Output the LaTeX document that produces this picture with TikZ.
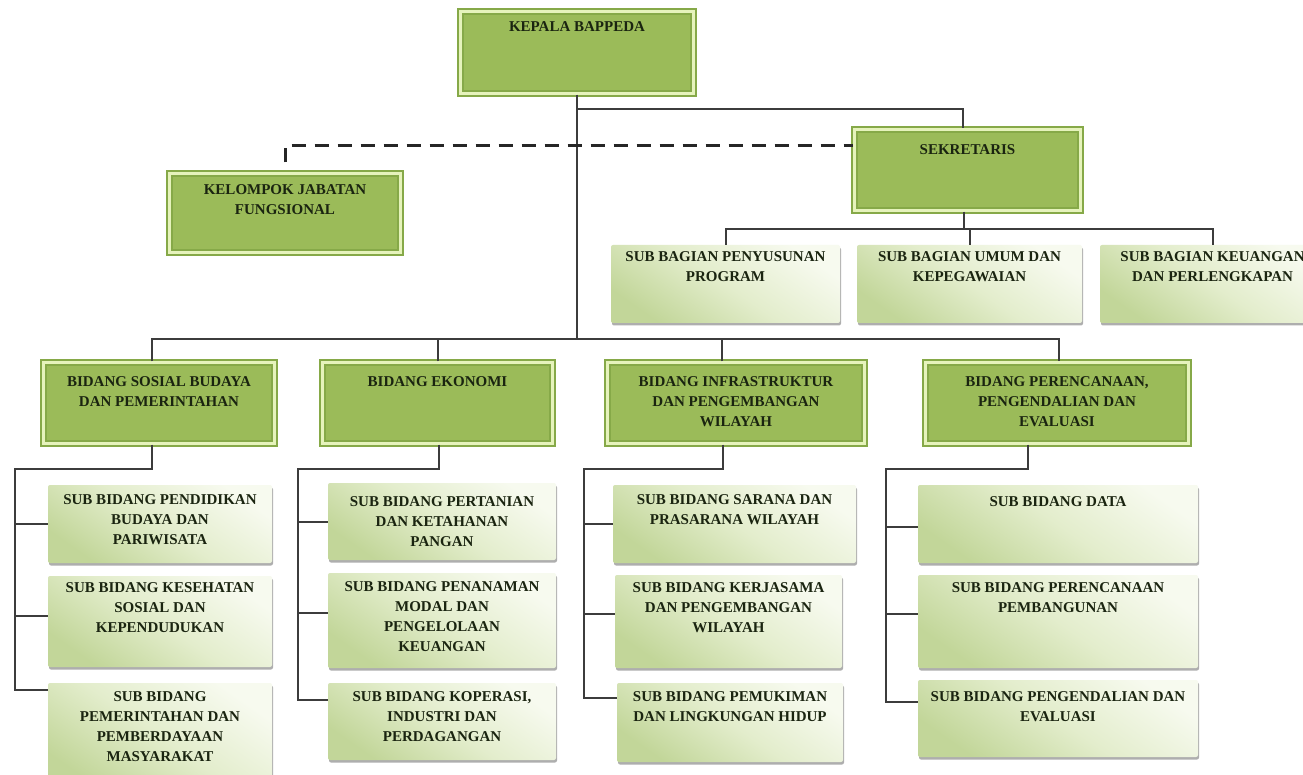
\documentclass[tikz,border=0pt]{standalone}
\usepackage{fontspec}
\setmainfont{Liberation Serif}
\usepackage{tikz}
\usetikzlibrary{shadows}

\definecolor{boxfill}{HTML}{9BBB59}
\definecolor{boxrim}{HTML}{86A948}
\definecolor{boxlight}{HTML}{E6F3BC}
\definecolor{subtop}{HTML}{F7FAEF}
\definecolor{submid}{HTML}{E3EDCC}
\definecolor{subbot}{HTML}{C2D699}
\definecolor{inktext}{HTML}{1A2410}
\definecolor{linegray}{HTML}{3C3C3C}

% width, height, top padding, text
\newcommand{\nodetext}[4]{\parbox[c][#2pt][t]{#1pt}{\centering\vspace*{#3pt}#4\par}}

\begin{document}
\begin{tikzpicture}[
  x=1pt, y=-1pt,
  head/.style={draw=boxrim, line width=2.2pt, double=boxlight, double distance=2.6pt,
    fill=boxfill, inner sep=0pt, text=inktext, font=\bfseries\fontsize{15}{20}\selectfont},
  sub/.style={rounded corners=2pt, top color=subtop, bottom color=subbot, middle color=submid,
    shading angle=-35, inner sep=0pt, text=inktext, font=\bfseries\fontsize{15}{20}\selectfont,
    drop shadow={shadow xshift=1pt, shadow yshift=-2.5pt, fill=black!70, opacity=.45}},
  conn/.style={draw=linegray, line width=2pt},
  dashconn/.style={draw=black!85, line width=3pt, dash pattern=on 14pt off 9pt}
]
\fill[white] (0,0) rectangle (1303,775);
\useasboundingbox (0,0) rectangle (1303,775);

% top level
\node[head] (kep) at (577,52.5) {\nodetext{233}{82}{10}{KEPALA BAPPEDA}};
\node[head] (sek) at (967.5,170) {\nodetext{226}{81}{15}{SEKRETARIS}};
\node[head] (kjf) at (285,213) {\nodetext{231}{79}{11}{KELOMPOK JABATAN\\FUNGSIONAL}};

% sub bagian
\node[sub] (sb1) at (725.5,284) {\nodetext{229}{78}{7}{SUB BAGIAN PENYUSUNAN\\PROGRAM}};
\node[sub] (sb2) at (969.5,284) {\nodetext{225}{78}{7}{SUB BAGIAN UMUM DAN\\KEPEGAWAIAN}};
\node[sub] (sb3) at (1212.5,284) {\nodetext{225}{78}{7}{SUB BAGIAN KEUANGAN\\DAN PERLENGKAPAN}};

% bidang
\node[head] (bs) at (159,403) {\nodetext{231}{81}{14}{BIDANG SOSIAL BUDAYA\\DAN PEMERINTAHAN}};
\node[head] (be) at (437.5,403) {\nodetext{230}{81}{14}{BIDANG EKONOMI}};
\node[head] (bi) at (736,403) {\nodetext{257}{81}{14}{BIDANG INFRASTRUKTUR\\DAN PENGEMBANGAN\\WILAYAH}};
\node[head] (bp) at (1057,403) {\nodetext{263}{81}{14}{BIDANG PERENCANAAN,\\PENGENDALIAN DAN\\EVALUASI}};

% sub bidang
\node[sub] (s11) at (160,524) {\nodetext{224}{78}{10}{SUB BIDANG PENDIDIKAN\\BUDAYA DAN\\PARIWISATA}};
\node[sub] (s12) at (160,621.5) {\nodetext{224}{91}{7}{SUB BIDANG KESEHATAN\\SOSIAL DAN\\KEPENDUDUKAN}};
\node[sub] (s13) at (160,736.5) {\nodetext{224}{107}{9}{SUB BIDANG\\PEMERINTAHAN DAN\\PEMBERDAYAAN\\MASYARAKAT}};

\node[sub] (s21) at (442,521.5) {\nodetext{228}{77}{14}{SUB BIDANG PERTANIAN\\DAN KETAHANAN\\PANGAN}};
\node[sub] (s22) at (442,620.5) {\nodetext{228}{95}{9}{SUB BIDANG PENANAMAN\\MODAL DAN\\PENGELOLAAN\\KEUANGAN}};
\node[sub] (s23) at (442,721.5) {\nodetext{228}{77}{9}{SUB BIDANG KOPERASI,\\INDUSTRI DAN\\PERDAGANGAN}};

\node[sub] (s31) at (734.5,524) {\nodetext{243}{78}{10}{SUB BIDANG SARANA DAN\\PRASARANA WILAYAH}};
\node[sub] (s32) at (728.5,621.5) {\nodetext{227}{93}{8}{SUB BIDANG KERJASAMA\\DAN PENGEMBANGAN\\WILAYAH}};
\node[sub] (s33) at (730,722.5) {\nodetext{226}{79}{9}{SUB BIDANG PEMUKIMAN\\DAN LINGKUNGAN HIDUP}};

\node[sub] (s41) at (1058,524) {\nodetext{280}{78}{12}{SUB BIDANG DATA}};
\node[sub] (s42) at (1058,621.5) {\nodetext{280}{93}{8}{SUB BIDANG PERENCANAAN\\PEMBANGUNAN}};
\node[sub] (s43) at (1058,718.5) {\nodetext{280}{77}{12}{SUB BIDANG PENGENDALIAN DAN\\EVALUASI}};

% connectors
\coordinate (hub) at (577,339);
\coordinate (k1) at (15,469);
\coordinate (k2) at (298,469);
\coordinate (k3) at (584,469);
\coordinate (k4) at (886,469);

\draw[conn] (kep.south) -- (hub);
\draw[conn] ([yshift=-14pt]kep.south) -| ([xshift=-5pt]sek.north);
\draw[dashconn] ([yshift=10pt]kjf.north) |- ([yshift=24pt]sek.west);
\draw[conn] ([xshift=-4pt]sek.south) -- ++(0,17) coordinate (sbus);
\draw[conn] (sb1.north) |- (sbus) -| (sb3.north);
\draw[conn] (sb2.north) |- (sbus);

\draw[conn] ([xshift=-7pt]bs.north) |- (hub) -| ([xshift=2pt]bp.north);
\draw[conn] (be.north) |- (hub);
\draw[conn] ([xshift=-14pt]bi.north) |- (hub);

\draw[conn] ([xshift=-7pt]bs.south) |- (k1) |- ([yshift=-7pt]s13.north west);
\draw[conn] (s11.west) -| (k1);
\draw[conn] ([yshift=6pt]s12.west) -| (k1);

\draw[conn] ([xshift=1.5pt]be.south) |- (k2) |- ([yshift=-17pt]s23.north west);
\draw[conn] (s21.west) -| (k2);
\draw[conn] ([yshift=8pt]s22.west) -| (k2);

\draw[conn] ([xshift=-13pt]bi.south) |- (k3) |- ([yshift=-15pt]s33.north west);
\draw[conn] (s31.west) -| (k3);
\draw[conn] ([yshift=8pt]s32.west) -| (k3);

\draw[conn] ([xshift=-29pt]bp.south) |- (k4) |- ([yshift=-22pt]s43.north west);
\draw[conn] ([yshift=-3pt]s41.west) -| (k4);
\draw[conn] ([yshift=8pt]s42.west) -| (k4);
\end{tikzpicture}
\end{document}
